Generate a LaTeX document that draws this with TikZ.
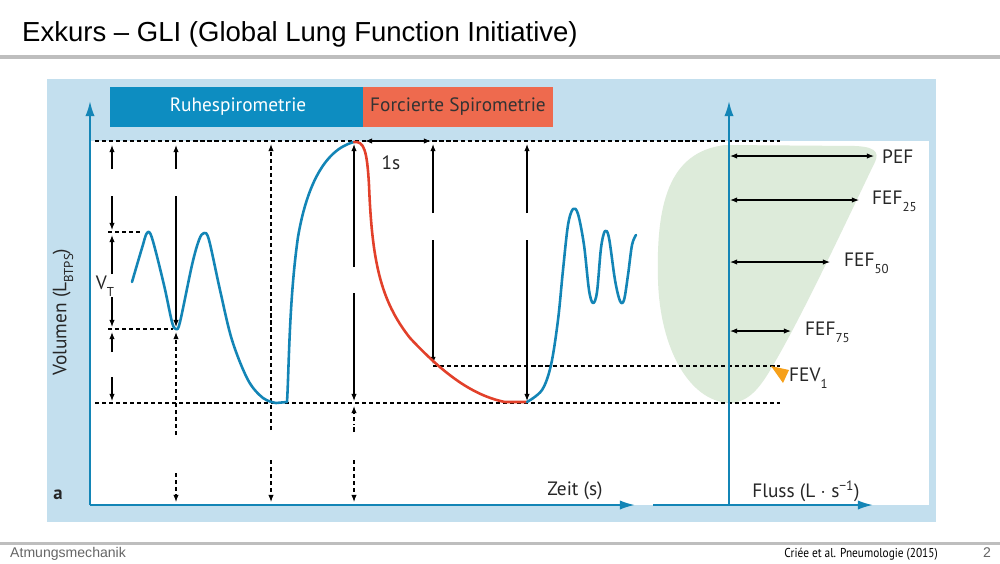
\documentclass[tikz,border=0pt]{standalone}
\usepackage{fontspec}
\setmainfont{Liberation Sans}
\newfontfamily\figfont{PT Sans}
\newfontfamily\citefont[FakeStretch=0.88]{PT Sans}
\usetikzlibrary{arrows.meta}
\definecolor{panelblue}{HTML}{C3DFEE}
\definecolor{curveblue}{HTML}{1385B6}
\definecolor{headblue}{HTML}{0D8DC1}
\definecolor{headred}{HTML}{EE6A4E}
\definecolor{curvered}{HTML}{E2402A}
\definecolor{blobgreen}{HTML}{DDEBDA}
\definecolor{markorange}{HTML}{F6A01A}
\definecolor{rulegray}{HTML}{BEBEBE}
\newcommand\lowsub[1]{\raisebox{-0.7ex}{\fontsize{11}{11}\selectfont #1}}

\begin{document}
\begin{tikzpicture}[x=0.3mm, y=-0.3mm, >={Latex[length=6pt,width=4.5pt]}]
	\tikzstyle{guide} = [dash pattern=on 3.5pt off 2.5pt, line width=0.9pt]
	\tikzstyle{dim} = [line width=0.9pt, ->]
	\tikzstyle{dimdash} = [dim, dash pattern=on 3.5pt off 2.5pt]
	\tikzstyle{curve} = [line width=2.2pt, curveblue, line cap=round, line join=round]
	\tikzstyle{axis} = [line width=1.6pt, curveblue, -{Latex[length=13pt,width=8pt]}]
	\tikzstyle{lbl} = [font=\figfont\fontsize{16.5}{17}\selectfont, text=black!85, inner sep=0pt]
	\useasboundingbox (0,0) rectangle (1000,563);
	\fill[white] (0,0) rectangle (1000,563);

	% slide frame
	\node[anchor=base west, inner sep=0pt, font=\fontsize{23.5}{24}\selectfont] (title) at (22,41) {Exkurs -- GLI (Global Lung Function Initiative)};
	\fill[rulegray] (0,55) rectangle (1000,58.5);
	\fill[rulegray] (0,541.5) rectangle (1000,545);
	\node[anchor=base west, inner sep=0pt, text=black!60, font=\fontsize{12}{12}\selectfont] (chapter) at (10,557) {Atmungsmechanik};
	\node[anchor=base east, inner sep=0pt, font=\citefont\fontsize{11}{11}\selectfont] (source) at (938,557) {Criée et al. Pneumologie (2015)};
	\node[anchor=base, inner sep=0pt, text=black!60, font=\fontsize{12}{12}\selectfont] (page) at (987,557) {2};

	% panel
	\fill[panelblue] (47,79) rectangle (936,522);
	\fill[white] (90,141) rectangle (929,505);
	\fill[headblue] (110,87) rectangle (363,127);
	\fill[headred] (363,87) rectangle (553,127);
	\node[lbl, text=white] (rest) at (238,107) {Ruhespirometrie};
	\node[lbl, text=black!80] (forced) at (458,107) {Forcierte Spirometrie};

	% flow-volume loop
	\fill[blobgreen] (729,403) .. controls (690,401) and (660,350) .. (658,280)
		.. controls (656,205) and (668,152) .. (725,145) -- (855,146)
		.. controls (880,147) and (879,155) .. (873,166)
		.. controls (840,235) and (800,320) .. (772,367)
		.. controls (760,388) and (748,403) .. (729,403) -- cycle;

	% guide lines
	\draw[guide] (95,141) -- (780,141);
	\draw[guide] (108,232) -- (143,232);
	\draw[guide] (108,329) -- (173,329);
	\draw[guide] (433,366) -- (780,366);
	\draw[guide] (95,403) -- (780,403);

	% volume arrows
	\draw[dim] (112,169) -- (112,145);
	\draw[dim] (112,196) -- (112,230);
	\draw[dim] (112,274) -- (112,235);
	\draw[dim] (112,297) -- (112,327);
	\draw[dim] (112,352) -- (112,332);
	\draw[dim] (112,377) -- (112,401);
	\node[lbl] (vt) at (105,286) {V\lowsub{T}};
	\draw[dim] (176,169) -- (176,145);
	\draw[dim] (176,196) -- (176,327);
	\draw[dimdash] (176,435) -- (176,332);
	\draw[dimdash] (176,473) -- (176,502);
	\draw[dimdash] (271,430) -- (271,144);
	\draw[dimdash] (271,460) -- (271,502);
	\draw[dim] (354,267) -- (354,144);
	\draw[dim] (354,293) -- (354,401);
	\draw[dim, dash pattern=on 4pt off 2pt on 1pt off 2pt] (354,432) -- (354,406);
	\draw[dimdash] (354,460) -- (354,502);
	\draw[dim] (433,213) -- (433,144);
	\draw[dim] (433,240) -- (433,364);
	\draw[dim] (527,213) -- (527,144);
	\draw[dim] (527,240) -- (527,401);
	\draw[dim, <->] (365,141) -- (431,141);
	\node[lbl] (onesec) at (391,163) {1s};

	% spirogram
	\draw[curve] plot[smooth, tension=0.55] coordinates {(132,282) (142,248) (147,233) (152,238) (164,285) (172,322) (176,329) (180,322) (192,265) (199,240) (204,233) (209,240) (220,290) (232,340) (248,380) (263,398) (276,403)} -- (287,402)
		.. controls (289,370) and (289,300) .. (298,237) .. controls (306,190) and (323,150) .. (354,142);
	\draw[curve, curvered] (354,142) .. controls (364,141) and (367,150) .. (369,185)
		.. controls (372,260) and (380,300) .. (410,338) .. controls (440,370) and (470,395) .. (505,402) -- (527,402);
	\draw[curve] plot[smooth, tension=0.55] coordinates {(527,402) (542,390) (551,365) (558,320) (563,270) (568,225) (573,209) (578,214) (584,245) (589,290) (593,303) (597,292) (601,248) (605,231) (609,238) (615,280) (620,301) (624,300) (628,275) (632,245) (636,235)};

	% axes
	\draw[axis] (90,505) -- (90,101);
	\draw[axis] (90,505) -- (635,505);
	\draw[axis] (653,505) -- (873,505);
	\draw[axis] (729,505) -- (729,101);
	\node[lbl] (time) at (575,491) {Zeit (s)};
	\node[lbl] (flow) at (806,491) {Fluss (L $\cdot$ s\textsuperscript{−1})};
	\node[lbl, rotate=90] (volume) at (63,312) {Volumen (L\lowsub{BTPS})};
	\node[lbl, font=\figfont\bfseries\fontsize{16}{16}\selectfont] (panel) at (58,495) {a};

	% flow arrows
	\draw[dim, <->] (730,156) -- (874,156);
	\draw[dim, <->] (730,200) -- (859,200);
	\draw[dim, <->] (730,262) -- (830,262);
	\draw[dim, <->] (730,331) -- (791,331);
	\node[lbl, anchor=west] (pef) at (882,157) {PEF};
	\node[lbl, anchor=west] (fef25) at (872,201) {FEF\lowsub{25}};
	\node[lbl, anchor=west] (fef50) at (844,263) {FEF\lowsub{50}};
	\node[lbl, anchor=west] (fef75) at (805,332) {FEF\lowsub{75}};
	\fill[markorange] (771,366) -- (789,370) -- (783,383) -- cycle;
	\node[lbl, anchor=west] (fev1) at (789,378) {FEV\lowsub{1}};
\end{tikzpicture}
\end{document}
